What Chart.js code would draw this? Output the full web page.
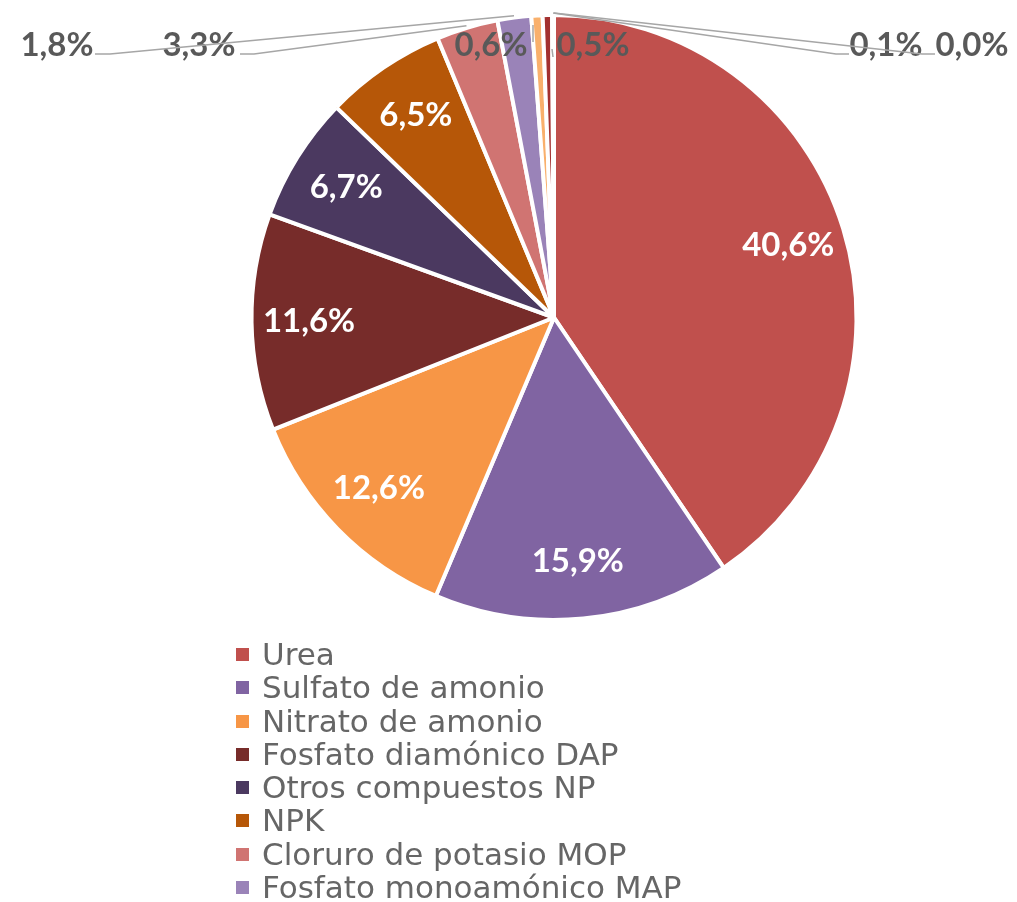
<!DOCTYPE html>
<html>
<head>
<meta charset="utf-8">
<title>Consumo de fertilizantes</title>
<script src="https://cdn.jsdelivr.net/npm/chart.js@4.4.0/dist/chart.umd.min.js"></script>
<style>
    html, body { margin: 0; padding: 0; background: #fff; overflow: hidden; }
    #wrap { position: relative; width: 1017px; height: 902px; overflow: hidden; }
    #pie { position: absolute; left: 0; top: 0; }
    #legend { position: absolute; left: 236px; top: 638px; font-family: "DejaVu Sans", sans-serif; font-size: 31px; color: #666666; }
    .item { position: relative; height: 33.3px; }
    .swatch { position: absolute; left: 0; top: 10px; width: 13px; height: 13px; }
    .name { position: absolute; left: 26px; top: 0; line-height: 33.3px; white-space: nowrap; }
</style>
</head>
<body>
<div id="wrap">
    <canvas id="pie" width="1017" height="902"></canvas>
    <div id="legend"></div>
</div>
<script>
// Data
const categories = [
    'Urea', 'Sulfato de amonio', 'Nitrato de amonio', 'Fosfato diamónico DAP',
    'Otros compuestos NP', 'NPK', 'Cloruro de potasio MOP', 'Fosfato monoamónico MAP',
    'Nitrato de potasio', 'Superfosfato triple TSP', 'Sulfato de potasio', 'Otros'
];
const shares = [40.6, 15.9, 12.6, 11.6, 6.7, 6.5, 3.3, 1.8, 0.6, 0.5, 0.1, 0.0];

// Styles
const sliceColors = [
    '#c0504d', '#8064a2', '#f79646', '#772c2a', '#4b3960', '#b65708',
    '#d07472', '#9a83b8', '#f9b06c', '#a3302f', '#604a7b', '#e6a2a0'
];

// Small slices get their labels outside, with leader lines (Excel style)
const outsidePlacement = {
    6:  { x: 199, y: 45, fromArc: true, leader: [[254, 54], [240, 54]] },
    7:  { x: 57,  y: 45, fromArc: true, leader: [[110, 54], [95, 54]] },
    8:  { x: 491, y: 45, fromArc: false, leader: [[533, 25], [533, 42]] },
    9:  { x: 593, y: 45, fromArc: false, leader: [[552, 49], [553, 57]] },
    10: { x: 886, y: 45, fromArc: true, leader: [[836, 54], [849, 54]] },
    11: { x: 972, y: 45, fromArc: true, leader: [[922, 54], [935, 54]] }
};

const fmt = v => v.toFixed(1).replace('.', ',') + '%';

const pieLabels = {
    id: 'pieLabels',
    afterDatasetsDraw(chart) {
        const ctx = chart.ctx;
        const meta = chart.getDatasetMeta(0);
        ctx.save();
        ctx.font = 'bold 33px Lato, sans-serif';
        ctx.textAlign = 'center';
        ctx.textBaseline = 'middle';
        meta.data.forEach((arc, i) => {
            const p = arc.getProps(['x', 'y', 'startAngle', 'endAngle', 'outerRadius']);
            const mid = (p.startAngle + p.endAngle) / 2;
            const text = fmt(shares[i]);
            const out = outsidePlacement[i];
            if (!out) {
                const r = p.outerRadius * 0.81;
                ctx.fillStyle = '#ffffff';
                ctx.fillText(text, p.x + Math.cos(mid) * r, p.y + Math.sin(mid) * r);
                return;
            }
            ctx.strokeStyle = '#a6a6a6';
            ctx.lineWidth = 1.5;
            ctx.beginPath();
            let pts = out.leader;
            if (out.fromArc) {
                const er = p.outerRadius + 2;
                ctx.moveTo(p.x + Math.cos(mid) * er, p.y + Math.sin(mid) * er);
            } else {
                ctx.moveTo(pts[0][0], pts[0][1]);
                pts = pts.slice(1);
            }
            pts.forEach(q => ctx.lineTo(q[0], q[1]));
            ctx.stroke();
            ctx.fillStyle = '#595959';
            ctx.fillText(text, out.x, out.y);
        });
        ctx.restore();
    }
};

const chart = new Chart(document.getElementById('pie'), {
    type: 'pie',
    data: {
        labels: categories,
        datasets: [{
            data: shares,
            backgroundColor: sliceColors,
            borderColor: '#ffffff',
            borderWidth: 4
        }]
    },
    options: {
        responsive: false,
        animation: false,
        layout: { padding: { top: 13, bottom: 280, left: 91, right: 0 } },
        plugins: {
            legend: { display: false }, // HTML legend below
            tooltip: { enabled: false }
        }
    },
    plugins: [pieLabels]
});

// Custom legend in HTML, built from the chart data
const legendEl = document.getElementById('legend');
chart.data.labels.forEach((name, i) => {
    const row = document.createElement('div');
    row.className = 'item';
    row.innerHTML = '<span class="swatch" style="background:' + sliceColors[i] + '"></span>' +
        '<span class="name">' + name + '</span>';
    legendEl.appendChild(row);
});
</script>
</body>
</html>
